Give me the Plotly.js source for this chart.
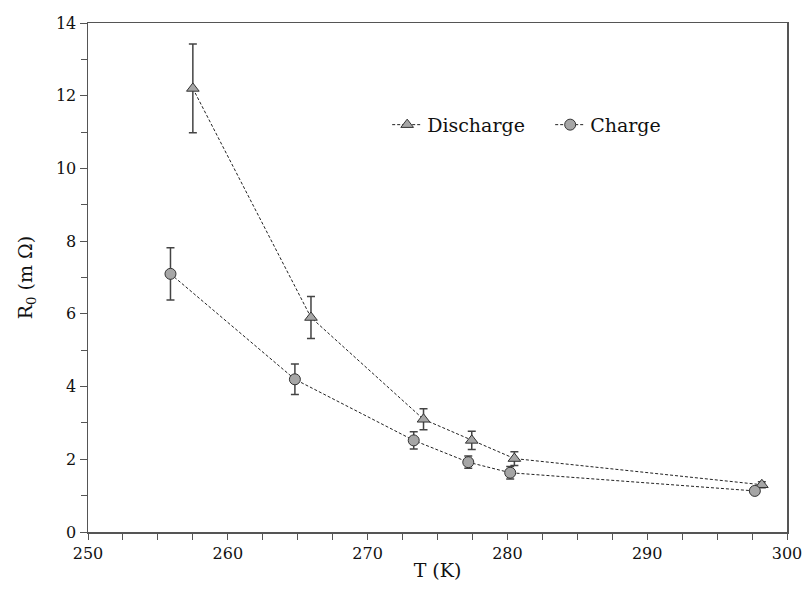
<!DOCTYPE html>
<html>
<head>
<meta charset="utf-8">
<script src="https://cdn.plot.ly/plotly-3.0.1.min.js"></script>
<style>html,body{margin:0;padding:0;background:#fff;}#chart{width:805px;height:593px;}</style>
</head>
<body>
<div id="chart"></div>
<script>
// Discharge series
const dischargeT = [257.5, 265.95, 274.0, 277.45, 280.5, 298.2];
const dischargeR = [12.2, 5.9, 3.1, 2.52, 2.02, 1.3];
const dischargeErr = [1.22, 0.58, 0.29, 0.25, 0.19, 0.08];
// Charge series
const chargeT = [255.9, 264.8, 273.3, 277.2, 280.2, 297.7];
const chargeR = [7.1, 4.2, 2.52, 1.92, 1.63, 1.13];
const chargeErr = [0.72, 0.42, 0.24, 0.17, 0.17, 0.06];

const xTickVals = [250, 260, 270, 280, 290, 300];
const yTickVals = [0, 2, 4, 6, 8, 10, 12, 14];

const font = {family: 'DejaVu Serif', color: '#111'};

const traces = [
  {
    x: dischargeT, y: dischargeR, name: 'Discharge', type: 'scatter', mode: 'lines+markers',
    line: {color: '#222', width: 1, dash: '3px,2px'},
    marker: {symbol: 'triangle-up', size: 11, color: '#a6a6a6', line: {color: '#333', width: 1}},
    error_y: {type: 'data', array: dischargeErr, visible: true, color: '#444', thickness: 1.5, width: 4}
  },
  {
    x: chargeT, y: chargeR, name: 'Charge', type: 'scatter', mode: 'lines+markers',
    line: {color: '#222', width: 1, dash: '3px,2px'},
    marker: {symbol: 'circle', size: 11, color: '#a6a6a6', line: {color: '#333', width: 1}},
    error_y: {type: 'data', array: chargeErr, visible: true, color: '#444', thickness: 1.5, width: 4}
  }
];

const layout = {
  width: 805, height: 593,
  margin: {l: 88, r: 18, t: 23, b: 61, autoexpand: false},
  paper_bgcolor: '#fff', plot_bgcolor: '#fff',
  font: Object.assign({size: 16}, font),
  showlegend: true,
  legend: {
    orientation: 'h', x: 0.428, y: 0.80, xanchor: 'left', yanchor: 'middle',
    font: Object.assign({size: 19}, font), bgcolor: 'rgba(0,0,0,0)',
    itemwidth: 30, entrywidth: 118, entrywidthmode: 'pixels', tracegroupgap: 0
  },
  xaxis: {
    range: [250, 300], tickvals: xTickVals, ticktext: xTickVals.map(String),
    ticks: 'outside', ticklen: 6, tickwidth: 1, tickcolor: '#555',
    minor: {dtick: 2.5, tick0: 250, ticks: 'outside', ticklen: 6, tickwidth: 1, tickcolor: '#555'},
    showline: true, linecolor: '#555', linewidth: 1.5, mirror: true,
    showgrid: false, zeroline: false,
    tickfont: Object.assign({size: 16}, font),
    title: {text: 'T (K)', font: Object.assign({size: 19}, font), standoff: 2}
  },
  yaxis: {
    range: [0, 14], tickvals: yTickVals, ticktext: yTickVals.map(String),
    ticks: 'outside', ticklen: 7, tickwidth: 1, tickcolor: '#555',
    minor: {dtick: 1, tick0: 0, ticks: 'outside', ticklen: 6, tickwidth: 1, tickcolor: '#555'},
    showline: true, linecolor: '#555', linewidth: 1.5, mirror: true,
    showgrid: false, zeroline: false,
    tickfont: Object.assign({size: 16}, font),
    title: {text: 'R<sub>0</sub> (m Ω)', font: Object.assign({size: 19}, font), standoff: 18}
  }
};

Plotly.newPlot('chart', traces, layout, {staticPlot: true, displayModeBar: false});
</script>
</body>
</html>
